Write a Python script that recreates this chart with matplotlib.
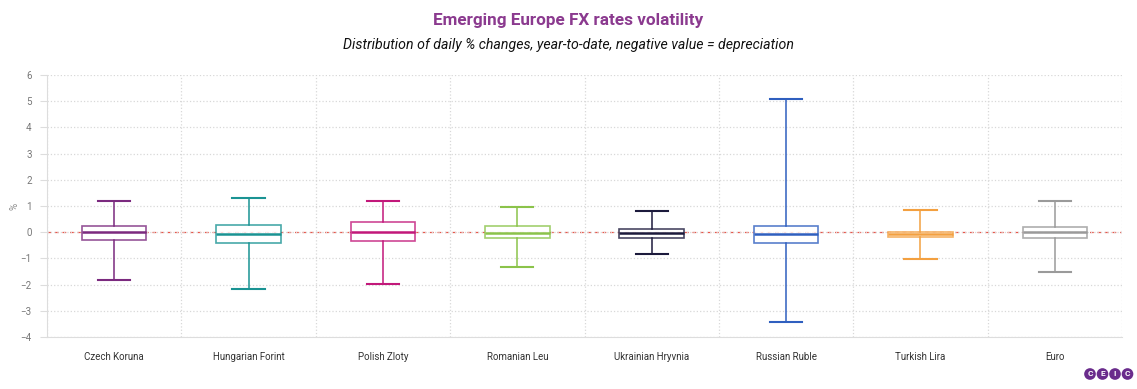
import matplotlib.pyplot as plt

plt.rcParams['font.family'] = ['Roboto', 'DejaVu Sans']

currencies = ['Czech Koruna', 'Hungarian Forint', 'Polish Zloty', 'Romanian Leu',
              'Ukrainian Hryvnia', 'Russian Ruble', 'Turkish Lira', 'Euro']
whis_low = [-1.84, -2.15, -1.96, -1.34, -0.84, -3.41, -1.02, -1.51]
q1 = [-0.29, -0.41, -0.32, -0.24, -0.24, -0.43, -0.20, -0.24]
median = [0.00, -0.06, 0.00, -0.04, -0.04, -0.06, -0.05, 0.00]
q3 = [0.24, 0.28, 0.39, 0.22, 0.11, 0.24, 0.01, 0.18]
whis_high = [1.18, 1.31, 1.18, 0.97, 0.81, 5.08, 0.85, 1.20]
colors = ['#7b2a7f', '#1a9393', '#c2187a', '#8bc34a',
          '#1c1a3c', '#2f5fbf', '#f3a040', '#9a9a9a']

fig = plt.figure(figsize=(11.37, 3.89), dpi=100)
ax = fig.add_axes([47/1137, 1-337/389, (1122-47)/1137, (337-75)/389])

# grid and reference line
ax.set_ylim(-4, 6)
ax.set_xlim(0.5, len(currencies) + 0.5)
ax.set_yticks(range(-4, 7))
ax.set_xticks([i + 0.5 for i in range(len(currencies) + 1)], minor=True)
ax.grid(True, axis='y', which='major', color='#d8d8d8', linestyle=':', linewidth=0.9)
ax.grid(True, axis='x', which='minor', color='#d8d8d8', linestyle=':', linewidth=0.9)
ax.axhline(0, color='#e8564a', linestyle=(0, (3, 3)), linewidth=0.9, zorder=1)

for i in range(len(currencies)):
    st = [{'whislo': whis_low[i], 'q1': q1[i], 'med': median[i],
           'q3': q3[i], 'whishi': whis_high[i], 'fliers': []}]
    c = colors[i]
    ax.bxp(st, positions=[i + 1], widths=0.48, showfliers=False, patch_artist=True,
           boxprops=dict(edgecolor=c, facecolor='white', linewidth=1.2, alpha=0.8),
           medianprops=dict(color=c, linewidth=1.8),
           whiskerprops=dict(color=c, linewidth=1.1),
           capprops=dict(color=c, linewidth=1.5),
           capwidths=0.24, zorder=3)

ax.set_xticks(range(1, len(currencies) + 1))
ax.set_xticklabels(currencies, fontsize=7, color='#333333')
ax.tick_params(axis='x', which='both', length=0, pad=11)
ax.tick_params(axis='y', labelsize=7, colors='#777777', length=5, color='#dddddd', pad=6)

for s in ['top', 'right']:
    ax.spines[s].set_visible(False)
ax.spines['left'].set_color('#dddddd')
ax.spines['bottom'].set_color('#dddddd')
ax.set_ylabel('%', fontsize=7, color='#888888')
ax.yaxis.set_label_coords(-(47 - 20) / 1075, 0.5)

fig.text(0.5, 1-20/389, 'Emerging Europe FX rates volatility', ha='center', va='center',
         fontsize=12.3, fontweight='bold', color='#8b3a8f')
fig.text(0.5, 1-45/389, 'Distribution of daily % changes, year-to-date, negative value = depreciation',
         ha='center', va='center', fontsize=10.2, style='italic', color='#111111')

# logo
for k, letter in enumerate('CEIC'):
    fig.text((1090 + k * 12.5) / 1137, 1 - 374/389, letter, ha='center', va='center',
             fontsize=6, fontweight='bold', color='white',
             bbox=dict(boxstyle='circle,pad=0.28', fc='#6a2c8c', ec='none'))

fig.savefig('out.png', dpi=100)
